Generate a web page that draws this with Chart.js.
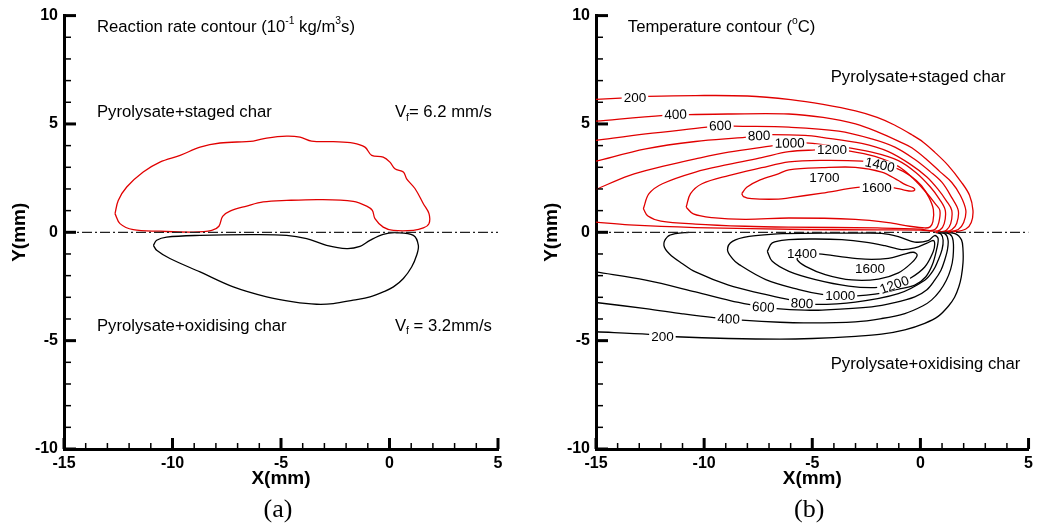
<!DOCTYPE html>
<html>
<head>
<meta charset="utf-8">
<script src="https://cdn.jsdelivr.net/npm/chart.js@4.4.1/dist/chart.umd.min.js"></script>
<style>
  html, body { margin: 0; padding: 0; background: #fff; }
  #wrap { position: relative; width: 1038px; height: 527px; }
  .panel { position: absolute; top: 0; width: 519px; height: 527px; }
</style>
</head>
<body>
<div id="wrap">
  <div class="panel" style="left:0"><canvas id="chartRate" width="519" height="527"></canvas></div>
  <div class="panel" style="left:519px"><canvas id="chartTemp" width="519" height="527"></canvas></div>
</div>
<script>
/* Axes */
const xRange = [-15, 5];
const yRange = [-10, 10];
const tickStep = 5;

/* (a) reaction rate contours */
const rateStaged = [[-12.65,0.86],[-12.5,1.47],[-12.11,2.09],[-11.35,2.78],[-10.58,3.24],[-9.65,3.55],[-8.73,3.93],[-7.81,4.12],[-6.28,4.21],[-5.66,4.35],[-4.74,4.44],[-4.12,4.39],[-3.59,4.21],[-2.59,4.18],[-1.67,4.12],[-1.13,3.93],[-0.82,3.55],[-0.29,3.47],[0.02,3.24],[0.25,2.93],[0.64,2.78],[0.79,2.47],[1.18,2.01],[1.56,1.32],[1.82,0.86],[1.82,0.4],[1.56,0.2],[1.1,0.09],[0.18,0.09],[-0.29,0.24],[-0.67,0.63],[-0.79,1.01],[-1.05,1.21],[-1.67,1.43],[-3.2,1.51],[-4.74,1.47],[-5.82,1.4],[-6.58,1.21],[-7.35,0.98],[-7.69,0.74],[-7.86,0.28],[-8.19,0.09],[-9.04,0.01],[-10.58,0.05],[-11.81,0.12],[-12.42,0.4],[-12.65,0.86]];
const rateOxid = [[-10.88,-0.6],[-10.73,-0.37],[-10.27,-0.22],[-8.73,-0.14],[-6.43,-0.11],[-4.74,-0.14],[-3.82,-0.29],[-2.9,-0.6],[-1.97,-0.75],[-1.36,-0.65],[-0.9,-0.37],[-0.29,-0.09],[0.33,-0.02],[1.1,-0.14],[1.33,-0.6],[1.25,-1.06],[1.02,-1.6],[0.64,-2.13],[0.18,-2.52],[-0.29,-2.75],[-0.9,-2.98],[-1.67,-3.13],[-2.59,-3.29],[-3.36,-3.32],[-4.43,-3.21],[-5.66,-2.98],[-7.2,-2.52],[-8.73,-1.83],[-10.12,-1.21],[-10.73,-0.83],[-10.88,-0.6]];

/* (b) temperature contours, staged char side */
const staged200 = [[-15,6.13],[-13.2,6.23],[-12.6,6.27],[-10.4,6.31],[-8,6.29],[-6,6.12],[-4.5,5.9],[-3,5.6],[-2,5.3],[-1.2,4.95],[-0.4,4.5],[0.13,4.16],[0.66,3.7],[1.28,3.09],[1.89,2.32],[2.27,1.71],[2.43,1.01],[2.35,0.45],[2.1,0.15],[1.6,0.03],[0.8,0]];
const staged400 = [[-15,5.13],[-11.86,5.4],[-10.7,5.43],[-8.9,5.46],[-6.08,5.46],[-4.5,5.3],[-3,5],[-1.9,4.6],[-0.9,4.15],[-0.4,3.9],[0.3,3.35],[0.9,2.8],[1.45,2.3],[1.85,1.7],[2.1,1.01],[2,0.45],[1.75,0.13],[1.3,0.03],[0.8,0]];
const staged600 = [[-15,4.24],[-12.7,4.54],[-9.87,4.85],[-9.25,4.93],[-8.64,4.9],[-6.08,4.85],[-3.78,4.67],[-2.25,4.31],[-1.18,3.93],[-0.3,3.39],[0.45,2.8],[1,2.3],[1.45,1.6],[1.75,1.01],[1.68,0.42],[1.45,0.12],[1.1,0.03],[0.75,0]];
const staged800 = [[-15,3.28],[-12.7,3.85],[-10.4,4.19],[-8.03,4.39],[-7.46,4.47],[-6.88,4.51],[-5.34,4.47],[-4.55,4.38],[-2.71,4.1],[-1.48,3.72],[-0.41,3.1],[0.3,2.55],[0.8,2],[1.2,1.45],[1.45,1.01],[1.4,0.4],[1.2,0.1],[0.95,0.02],[0.7,0]];
const staged1000 = [[-15,1.98],[-13.47,2.62],[-11.93,3.04],[-10.4,3.39],[-8.87,3.7],[-6.8,4],[-6.05,4.12],[-5.31,4.13],[-3.78,3.96],[-2.25,3.7],[-1.02,3.31],[-0.2,2.75],[0.45,2.1],[0.9,1.5],[1.15,1.01],[1.1,0.4],[0.9,0.1],[0.6,0.05],[0,0.1],[-2,0.11],[-5.34,0.13],[-10.4,0.22],[-13.47,0.34],[-15,0.47]];
const staged1200 = [[-12.81,1.09],[-12.55,1.78],[-11.93,2.24],[-10.4,2.78],[-8.87,3.13],[-7.34,3.45],[-6.08,3.72],[-4.85,3.8],[-4.09,3.82],[-3.32,3.76],[-2.1,3.5],[-1.02,3.04],[-0.3,2.45],[0.3,1.8],[0.7,1.3],[0.9,1.01],[0.85,0.45],[0.7,0.15],[0.45,0.08],[0,0.15],[-2,0.2],[-6.08,0.24],[-8.1,0.28],[-10.4,0.38],[-12,0.52],[-12.6,0.75],[-12.81,1.09]];
const staged1400 = [[-10.83,1.16],[-10.63,1.78],[-10.1,2.24],[-8.87,2.62],[-7.34,2.98],[-6.08,3.25],[-4.55,3.32],[-2.71,3.28],[-1.87,3.13],[-1.1,2.95],[-0.45,2.6],[0.05,2.15],[0.4,1.6],[0.6,1.05],[0.58,0.5],[0.45,0.25],[0.2,0.2],[-0.5,0.28],[-1.48,0.45],[-3.01,0.6],[-6.08,0.66],[-8.1,0.6],[-9.64,0.68],[-10.5,0.85],[-10.83,1.16]];
const staged1600 = [[-8.26,1.78],[-8.03,2.08],[-7.41,2.42],[-6.57,2.7],[-6.08,2.88],[-4.55,2.98],[-3.01,3],[-1.79,2.78],[-1.02,2.39],[-0.72,2.21],[-0.33,2.05],[-0.26,1.96],[-0.41,1.9],[-0.79,1.96],[-1.21,2.05],[-2.02,2.1],[-2.79,2.08],[-4.55,1.81],[-6.08,1.59],[-6.57,1.53],[-7.8,1.55],[-8.18,1.65],[-8.26,1.78]];

/* (b) temperature contours, oxidising char side */
const oxid200 = [[-15,-4.59],[-12.55,-4.71],[-11.93,-4.77],[-11.32,-4.82],[-8.87,-4.9],[-6.5,-4.93],[-5,-4.9],[-3,-4.8],[-1.8,-4.7],[-0.72,-4.5],[0.2,-4.2],[0.82,-3.88],[1.3,-3.4],[1.58,-3],[1.78,-2.5],[1.89,-2.06],[1.97,-1.4],[1.97,-0.83],[1.9,-0.35],[1.6,-0.06],[1,0]];
const oxid400 = [[-15,-3.24],[-12.7,-3.52],[-11,-3.76],[-9.56,-3.94],[-8.87,-3.99],[-8.26,-4.05],[-6.5,-4.15],[-5.34,-4.18],[-3.01,-4.13],[-1.8,-3.98],[-0.72,-3.75],[0.1,-3.4],[0.51,-3.13],[0.9,-2.7],[1.2,-2.21],[1.4,-1.7],[1.51,-1.14],[1.51,-0.37],[1.35,-0.08],[0.9,0]];
const oxid600 = [[-15,-1.83],[-12.7,-2.21],[-10.4,-2.75],[-8.8,-3.15],[-7.87,-3.34],[-7.26,-3.44],[-6.65,-3.52],[-5.34,-3.59],[-4.55,-3.59],[-2.25,-3.44],[-1.2,-3.25],[-0.26,-2.98],[0.3,-2.65],[0.66,-2.21],[0.95,-1.75],[1.12,-1.29],[1.25,-0.8],[1.28,-0.37],[1.15,-0.08],[0.8,0]];
const oxid800 = [[-10.7,0],[-11.32,-0.06],[-11.7,-0.21],[-11.86,-0.6],[-11.6,-1],[-11,-1.45],[-10.4,-1.83],[-8.87,-2.44],[-7.34,-2.83],[-5.96,-3.13],[-5.47,-3.24],[-4.85,-3.33],[-3.01,-3.22],[-1.02,-2.83],[0.2,-2.21],[0.6,-1.75],[0.82,-1.29],[1,-0.8],[1.05,-0.37],[0.95,-0.08],[0.7,0]];
const oxid1000 = [[-6.4,-0.06],[-7.92,-0.19],[-8.69,-0.42],[-8.92,-0.8],[-8.7,-1.2],[-8.38,-1.49],[-7.15,-2.18],[-5.62,-2.64],[-4.55,-2.86],[-3.71,-2.92],[-2.94,-2.93],[-2.1,-2.85],[-1.02,-2.62],[-0.26,-2.44],[0.25,-2.05],[0.55,-1.5],[0.74,-0.83],[0.82,-0.29],[0.66,-0.15],[0.36,-0.38],[-0.26,-0.45],[-1.02,-0.2],[-1.79,-0.05],[-3,-0.04],[-4.5,-0.04],[-6.4,-0.06]];
const oxid1200 = [[-7.08,-0.88],[-6.85,-0.49],[-6.08,-0.34],[-4.85,-0.31],[-3.63,-0.34],[-2.56,-0.45],[-1.64,-0.62],[-0.87,-0.8],[-0.26,-0.72],[0.3,-0.5],[0.6,-0.38],[0.66,-0.55],[0.59,-0.9],[0.2,-1.6],[-0.49,-2.13],[-1.21,-2.41],[-2.1,-2.55],[-3.32,-2.48],[-4.85,-2.18],[-6.08,-1.8],[-6.85,-1.34],[-7.08,-0.88]];
const oxid1400 = [[-5.62,-1.08],[-4.85,-0.98],[-3.78,-1.11],[-2.56,-1.24],[-1.48,-1.2],[-0.79,-1.02],[-0.33,-0.92],[-0.15,-1.05],[-0.41,-1.41],[-1.02,-1.87],[-1.94,-2.16],[-3.17,-2.2],[-4.4,-1.95],[-5.31,-1.57],[-5.7,-1.26],[-5.62,-1.08]];

/* Symmetry line */
const midLine = [[-15,0],[5,0]];

/* Contour labels: text, x, y, angle (deg) */
const stagedLabels = [['200',-13.2,6.23,0],['400',-11.32,5.45,-2],['600',-9.25,4.93,-2],['800',-7.46,4.47,-2],['1000',-6.05,4.13,-1],['1200',-4.09,3.82,0],['1400',-1.87,3.13,12],['1600',-2.02,2.1,0],['1700',-4.44,2.55,0]];
const oxidLabels = [['200',-11.93,-4.79,0],['400',-8.87,-3.98,2],['600',-7.26,-3.44,4],['800',-5.47,-3.27,3],['1000',-3.71,-2.92,0],['1200',-1.21,-2.41,-20],['1400',-5.47,-0.95,0],['1600',-2.33,-1.64,0]];

/* Notes: rich text parts, x, y */
const rateNotes = [
  [[['Reaction rate contour (10', ''], ['-1', 'sup'], [' kg/m', ''], ['3', 'sup'], ['s)', '']], -13.48, 9.45],
  [[['Pyrolysate+staged char', '']], -13.48, 5.53],
  [[['V', ''], ['f', 'sub'], ['= 6.2 mm/s', '']], 0.25, 5.53],
  [[['Pyrolysate+oxidising char', '']], -13.48, -4.33],
  [[['V', ''], ['f', 'sub'], [' = 3.2mm/s', '']], 0.25, -4.33],
];
const tempNotes = [
  [[['Temperature contour (', ''], ['o', 'sup'], ['C)', '']], -13.53, 9.45],
  [[['Pyrolysate+staged char', '']], -4.15, 7.14],
  [[['Pyrolysate+oxidising char', '']], -4.15, -6.08],
];

const SANS = '"Liberation Sans", Arial, Helvetica, sans-serif';
const SERIF = '"Liberation Serif", "Times New Roman", serif';
const RED = '#e10000';

toPts = (arr) => arr.map((p) => ({ x: p[0], y: p[1] }));

contour = (arr, color) => ({
  data: toPts(arr),
  showLine: true,
  borderColor: color,
  borderWidth: 1.3,
  pointRadius: 0,
  tension: 0.35,
  fill: false,
});

dashLine = () => ({
  data: toPts(midLine),
  showLine: true,
  borderColor: '#222',
  borderWidth: 1.2,
  borderDash: [10, 3, 2, 3],
  pointRadius: 0,
  tension: 0,
});

drawRich = (ctx, parts, px, py, size) => {
  let cx = px;
  ctx.textBaseline = 'middle';
  ctx.textAlign = 'left';
  ctx.fillStyle = '#000';
  parts.forEach(([t, mode]) => {
    const s = mode ? size * 0.62 : size;
    const dy = mode === 'sup' ? -size * 0.36 : mode === 'sub' ? size * 0.32 : 0;
    ctx.font = `${s}px ${SANS}`;
    ctx.fillText(t, cx, py + dy);
    cx += ctx.measureText(t).width;
  });
};

makeDecor = (notes, labels, caption) => ({
  id: 'decor',
  afterDraw(chart) {
    const { ctx, chartArea: a, scales: { x, y } } = chart;
    ctx.save();

    /* inward ticks, minor every 1 mm */
    ctx.strokeStyle = '#000';
    for (let v = xRange[0]; v <= xRange[1]; v++) {
      const major = v % tickStep === 0;
      const px = x.getPixelForValue(v);
      ctx.lineWidth = major ? 3 : 1.5;
      ctx.beginPath();
      ctx.moveTo(px, a.bottom);
      ctx.lineTo(px, a.bottom - (major ? 11 : 6));
      ctx.stroke();
    }
    for (let v = yRange[0]; v <= yRange[1]; v++) {
      const major = v % tickStep === 0;
      const py = y.getPixelForValue(v);
      ctx.lineWidth = major ? 3 : 1.5;
      ctx.beginPath();
      ctx.moveTo(a.left, py);
      ctx.lineTo(a.left + (major ? 12 : 7), py);
      ctx.stroke();
    }

    /* contour labels */
    labels.forEach(([t, lx, ly, ang]) => {
      ctx.save();
      ctx.translate(x.getPixelForValue(lx), y.getPixelForValue(ly));
      ctx.rotate((ang * Math.PI) / 180);
      ctx.font = `13.5px ${SANS}`;
      const w = ctx.measureText(t).width;
      ctx.fillStyle = '#fff';
      ctx.fillRect(-w / 2 - 2, -5, w + 4, 10);
      ctx.fillStyle = '#000';
      ctx.textAlign = 'center';
      ctx.textBaseline = 'middle';
      ctx.fillText(t, 0, 1);
      ctx.restore();
    });

    /* notes */
    notes.forEach(([parts, nx, ny]) => {
      drawRich(ctx, parts, x.getPixelForValue(nx), y.getPixelForValue(ny), 16.7);
    });

    /* axis titles and caption */
    const cx = (a.left + a.right) / 2;
    ctx.fillStyle = '#000';
    ctx.textAlign = 'center';
    ctx.textBaseline = 'middle';
    ctx.font = `bold 19px ${SANS}`;
    ctx.fillText('X(mm)', cx, a.bottom + 30);
    ctx.save();
    ctx.translate(a.left - 44, (a.top + a.bottom) / 2);
    ctx.rotate(-Math.PI / 2);
    ctx.fillText('Y(mm)', 0, 0);
    ctx.restore();
    ctx.font = `26px ${SERIF}`;
    ctx.fillText(caption, cx - 3, a.bottom + 61);

    ctx.restore();
  },
});

makeChart = (id, datasets, yWidth, padRight, decor) => {
  const ctx = document.getElementById(id).getContext('2d');
  return new Chart(ctx, {
    type: 'scatter',
    data: { datasets: datasets },
    options: {
      responsive: false,
      animation: false,
      devicePixelRatio: 1,
      layout: { padding: { top: 15, right: padRight, bottom: 0, left: 0 } },
      plugins: { legend: { display: false }, tooltip: { enabled: false } },
      scales: {
        x: {
          type: 'linear',
          min: xRange[0],
          max: xRange[1],
          ticks: { stepSize: tickStep, padding: 5, color: '#000', font: { family: SANS, size: 16, weight: 'bold' } },
          grid: { display: false, drawTicks: false },
          border: { display: true, width: 3, color: '#000' },
          afterFit: (scale) => { scale.height = 78; },
        },
        y: {
          type: 'linear',
          min: yRange[0],
          max: yRange[1],
          ticks: { stepSize: tickStep, padding: 6, color: '#000', font: { family: SANS, size: 16, weight: 'bold' } },
          grid: { display: false, drawTicks: false },
          border: { display: true, width: 3, color: '#000' },
          afterFit: (scale) => { scale.width = yWidth; },
        },
      },
    },
    plugins: [decor],
  });
};

/* (a) */
makeChart(
  'chartRate',
  [dashLine(), contour(rateStaged, RED), contour(rateOxid, '#000')],
  64, 21,
  makeDecor(rateNotes, [], '(a)')
);

/* (b) */
const stagedSet = [staged200, staged400, staged600, staged800, staged1000, staged1200, staged1400, staged1600];
const oxidSet = [oxid200, oxid400, oxid600, oxid800, oxid1000, oxid1200, oxid1400];
makeChart(
  'chartTemp',
  [dashLine()]
    .concat(stagedSet.map((c) => contour(c, RED)))
    .concat(oxidSet.map((c) => contour(c, '#000'))),
  77, 7,
  makeDecor(tempNotes, stagedLabels.concat(oxidLabels), '(b)')
);
</script>
</body>
</html>
